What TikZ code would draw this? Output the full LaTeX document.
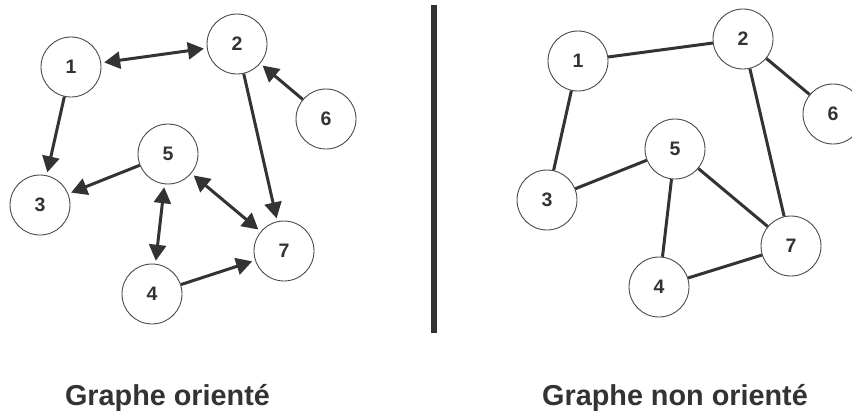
\documentclass[tikz,border=0pt]{standalone}
\usepackage{fontspec}
\setmainfont{Liberation Sans}
\usetikzlibrary{arrows.meta}
\definecolor{ink}{HTML}{333333}
\definecolor{ring}{HTML}{4A4A4A}
\tikzset{
  vertex/.style={circle, draw=ring, line width=0.9pt, fill=white, minimum size=60pt, inner sep=0pt,
    text=ink, font=\fontsize{19.5}{20}\selectfont\bfseries},
  edge/.style={draw=ink, line width=3pt},
  arc/.style={edge, -{Triangle[length=16pt, width=17pt]}, shorten >=3pt},
  biarc/.style={edge, {Triangle[length=16pt, width=17pt]}-{Triangle[length=16pt, width=17pt]}, shorten >=3pt, shorten <=3pt},
  caption/.style={text=ink, font=\fontsize{28.8}{30}\selectfont\bfseries, anchor=base, inner sep=0pt}
}
\begin{document}
\begin{tikzpicture}[x=1pt, y=-1pt]
\useasboundingbox (0,0) rectangle (852,410);
% left: directed
\node[vertex] (a1) at (71,67) {1};
\node[vertex] (a2) at (237,44) {2};
\node[vertex] (a6) at (326,119) {6};
\node[vertex] (a5) at (168,154) {5};
\node[vertex] (a3) at (40,205) {3};
\node[vertex] (a7) at (284,251) {7};
\node[vertex] (a4) at (152,294) {4};
\draw[biarc] (a1) -- (a2);
\draw[arc] (a6) -- (a2);
\draw[arc] (a2) -- (a7);
\draw[arc] (a1) -- (a3);
\draw[arc] (a5) -- (a3);
\draw[biarc] (a5) -- (a4);
\draw[biarc] (a5) -- (a7);
\draw[arc] (a4) -- (a7);
% divider
\coordinate (dtop) at (434,5);
\coordinate (dbot) at (434,333);
\draw[ink, line width=6pt] (dtop) -- (dbot);
% right: undirected
\node[vertex] (b1) at (578,61) {1};
\node[vertex] (b2) at (743,39) {2};
\node[vertex] (b6) at (833,114) {6};
\node[vertex] (b5) at (675,149) {5};
\node[vertex] (b3) at (547,200) {3};
\node[vertex] (b7) at (791,246) {7};
\node[vertex] (b4) at (659,287) {4};
\draw[edge] (b1) -- (b2);
\draw[edge] (b2) -- (b6);
\draw[edge] (b2) -- (b7);
\draw[edge] (b1) -- (b3);
\draw[edge] (b3) -- (b5);
\draw[edge] (b5) -- (b4);
\draw[edge] (b5) -- (b7);
\draw[edge] (b4) -- (b7);
% captions
\node[caption] (capL) at (167.5,405.5) {Graphe orienté};
\node[caption] (capR) at (675,405.5) {Graphe non orienté};
\end{tikzpicture}
\end{document}
